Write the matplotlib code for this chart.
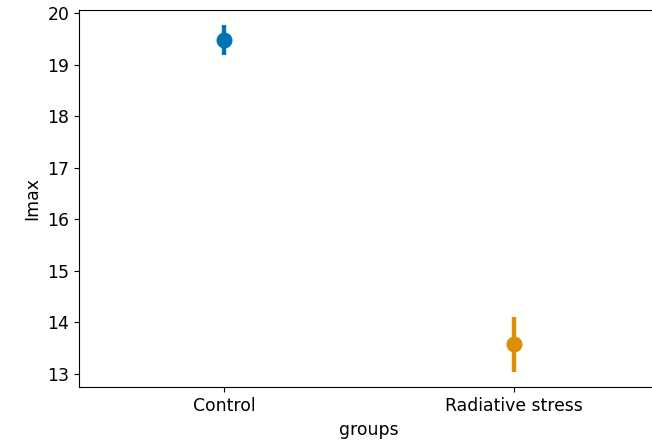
import matplotlib
matplotlib.use("Agg")
import matplotlib.pyplot as plt

groups = ["Control", "Radiative stress"]
imax_mean = [19.48, 13.58]
ci_low = [19.20, 13.04]
ci_high = [19.77, 14.11]
colors = ["#0173b2", "#de8f05"]

fig = plt.figure(figsize=(6.52, 4.42), dpi=100)
ax = fig.add_axes([79 / 652, 54.7 / 442, 580 / 652, 377 / 442])

for i, g in enumerate(groups):
    ax.plot([i, i], [ci_low[i], ci_high[i]], color=colors[i], lw=3.2, solid_capstyle="butt")
    ax.plot(i, imax_mean[i], "o", color=colors[i], ms=10.5)

ax.set_xticks(range(len(groups)))
ax.set_xticklabels(groups, fontsize=12.4)
ax.set_xlim(-0.5, len(groups) - 0.5)
ax.set_ylim(12.74, 20.06)
ax.tick_params(axis="y", labelsize=12.4)
ax.set_xlabel("groups", fontsize=12.4)
ax.set_ylabel("Imax", fontsize=12.4)

fig.savefig("out.png", dpi=100)
